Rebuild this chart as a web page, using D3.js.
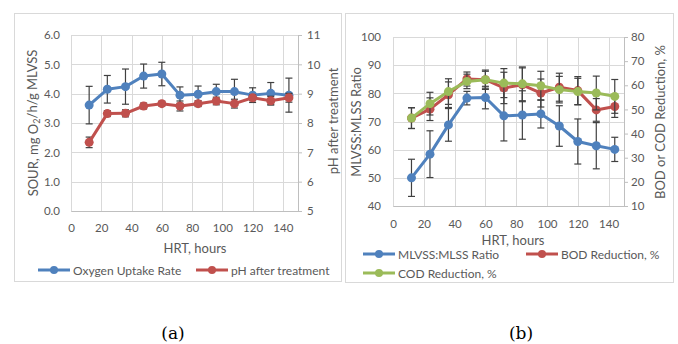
<!DOCTYPE html>
<html>
<head>
<meta charset="utf-8">
<script src="https://cdn.jsdelivr.net/npm/d3@7"></script>
<style>
body { margin: 0; background: #fff; }
svg text { font-family: Lato, "Open Sans", sans-serif; fill: #595959; }
</style>
</head>
<body>
<svg id="chart" width="678" height="344"></svg>
<script>
// HRT (hours) shared by both panels
var hrt = [12, 24, 36, 48, 60, 72, 84, 96, 108, 120, 132, 144];

// panel (a)
var sour    = [3.61, 4.15, 4.24, 4.60, 4.67, 3.95, 3.98, 4.07, 4.07, 3.95, 4.01, 3.95];
var sourErr = [0.64, 0.47, 0.60, 0.41, 0.40, 0.28, 0.28, 0.25, 0.42, 0.25, 0.37, 0.58];
var ph      = [7.34, 8.32, 8.33, 8.58, 8.66, 8.58, 8.66, 8.75, 8.66, 8.86, 8.76, 8.86];
var phErr   = [0.18, 0.10, 0.12, 0.10, 0.08, 0.17, 0.10, 0.13, 0.15, 0.10, 0.15, 0.15];

// panel (b)
var ratio    = [50.0, 58.4, 68.8, 78.3, 78.5, 72.0, 72.3, 72.7, 68.4, 62.9, 61.4, 60.1];
var ratioErr = [6.6, 8.3, 5.8, 2.4, 4.0, 8.9, 8.6, 5.0, 7.2, 8.0, 8.2, 4.3];
var bod      = [46.4, 50.1, 56.1, 62.6, 62.3, 58.9, 60.2, 56.8, 59.2, 57.8, 49.8, 51.2];
var bodErr   = [4.3, 4.7, 5.3, 2.9, 3.5, 6.5, 7.0, 5.8, 5.8, 5.8, 4.7, 4.5];
var cod      = [46.4, 52.4, 57.4, 61.6, 62.3, 60.9, 60.6, 59.8, 58.2, 57.4, 56.8, 55.4];
var codErr   = [4.3, 4.7, 5.3, 3.0, 4.0, 6.0, 7.0, 6.0, 5.5, 5.5, 7.0, 7.0];

// tick labels
var xTicks     = [0, 20, 40, 60, 80, 100, 120, 140];
var sourTicks  = [0, 1, 2, 3, 4, 5, 6];
var phTicks    = [5, 6, 7, 8, 9, 10, 11];
var ratioTicks = [40, 50, 60, 70, 80, 90, 100];
var redTicks   = [10, 20, 30, 40, 50, 60, 70, 80];

var BLUE = "#4f81bd", RED = "#c0504d", GREEN = "#9bbb59";

var svg = d3.select("#chart");

function drawPanel(p) {
    var g = svg.append("g");

    // chart border
    g.append("rect")
        .attr("x", p.box[0] + 0.5).attr("y", p.box[1] + 0.5)
        .attr("width", p.box[2] - p.box[0]).attr("height", p.box[3] - p.box[1])
        .attr("fill", "#fff").attr("stroke", "#d9d9d9");

    var x = d3.scaleLinear().domain([0, 150]).range([p.left, p.right]);
    var yL = d3.scaleLinear().domain(p.leftDomain).range([p.bottom, p.top]);
    var yR = d3.scaleLinear().domain(p.rightDomain).range([p.bottom, p.top]);

    // gridlines
    g.append("g").selectAll("line")
        .data(p.leftTicks).join("line")
        .attr("x1", p.left).attr("x2", p.right)
        .attr("y1", d => Math.round(yL(d)) + 0.5).attr("y2", d => Math.round(yL(d)) + 0.5)
        .attr("stroke", "#d9d9d9");
    g.append("g").selectAll("line")
        .data(xTicks).join("line")
        .attr("x1", d => Math.round(x(d)) + 0.5).attr("x2", d => Math.round(x(d)) + 0.5)
        .attr("y1", p.top).attr("y2", p.bottom)
        .attr("stroke", "#d9d9d9");

    // axes
    var ax = g.append("g")
        .attr("transform", "translate(0," + p.bottom + ")")
        .call(d3.axisBottom(x).tickValues(xTicks).tickSize(0).tickPadding(p.xPad));
    var al = g.append("g")
        .attr("transform", "translate(" + p.left + ",0)")
        .call(d3.axisLeft(yL).tickValues(p.leftTicks).tickFormat(p.leftFormat).tickSize(0).tickPadding(p.lPad));
    var ar = g.append("g")
        .attr("transform", "translate(" + p.right + ",0)")
        .call(d3.axisRight(yR).tickValues(p.rightTicks).tickFormat(d3.format("d"))
            .tickSize(4).tickSizeOuter(0).tickPadding(p.rPad));
    [ax, al, ar].forEach(function (a) {
        a.selectAll("text").attr("fill", "#595959").style("font-size", "11.5px");
        a.selectAll("path, line").attr("stroke", "#bfbfbf");
    });
    al.select(".domain").remove();

    // axis titles
    g.append("text")
        .attr("x", p.xTitle[0]).attr("y", p.xTitle[1])
        .attr("text-anchor", "middle").attr("dominant-baseline", "central")
        .style("font-size", "13px").text("HRT, hours");
    var lt = g.append("text")
        .attr("transform", "translate(" + p.lTitle[0] + "," + p.lTitle[1] + ") rotate(-90)")
        .attr("text-anchor", "middle").attr("dominant-baseline", "central")
        .style("font-size", "13px");
    p.lTitleParts.forEach(function (t) {
        lt.append("tspan").text(t.text)
            .attr("dy", t.dy || null)
            .style("font-size", t.size || null);
    });
    g.append("text")
        .attr("transform", "translate(" + p.rTitle[0] + "," + p.rTitle[1] + ") rotate(-90)")
        .attr("text-anchor", "middle").attr("dominant-baseline", "central")
        .style("font-size", "13px").text(p.rTitleText);

    // series
    p.series.forEach(function (s) {
        var y = s.axis === "left" ? yL : yR;
        var pts = hrt.map((h, i) => ({ h: h, v: s.values[i], e: s.err[i] }));

        var eb = g.append("g").attr("stroke", "#404040").attr("stroke-width", 1.2);
        eb.selectAll(".v").data(pts).join("line")
            .attr("x1", d => x(d.h)).attr("x2", d => x(d.h))
            .attr("y1", d => y(d.v - d.e)).attr("y2", d => y(d.v + d.e));
        eb.selectAll(".t").data(pts).join("line")
            .attr("x1", d => x(d.h) - 3.5).attr("x2", d => x(d.h) + 3.5)
            .attr("y1", d => y(d.v + d.e)).attr("y2", d => y(d.v + d.e));
        eb.selectAll(".b").data(pts).join("line")
            .attr("x1", d => x(d.h) - 3.5).attr("x2", d => x(d.h) + 3.5)
            .attr("y1", d => y(d.v - d.e)).attr("y2", d => y(d.v - d.e));

        g.append("path")
            .datum(pts)
            .attr("fill", "none").attr("stroke", s.color).attr("stroke-width", 3)
            .attr("stroke-linejoin", "round")
            .attr("d", d3.line().x(d => x(d.h)).y(d => y(d.v)));
        g.append("g").selectAll("circle")
            .data(pts).join("circle")
            .attr("cx", d => x(d.h)).attr("cy", d => y(d.v))
            .attr("r", 4.5).attr("fill", s.color);
    });

    // legend
    p.series.forEach(function (s) {
        var lx = s.legend[0], ly = s.legend[1];
        g.append("line")
            .attr("x1", lx).attr("x2", lx + 32).attr("y1", ly).attr("y2", ly)
            .attr("stroke", s.color).attr("stroke-width", 3);
        g.append("circle").attr("cx", lx + 16).attr("cy", ly).attr("r", 4).attr("fill", s.color);
        g.append("text")
            .attr("x", lx + 35).attr("y", ly)
            .attr("dominant-baseline", "central")
            .style("font-size", "12px").text(s.name);
    });

    // panel label
    svg.append("text")
        .attr("x", p.label[0]).attr("y", p.label[1])
        .attr("text-anchor", "middle").attr("dominant-baseline", "central")
        .style("font-family", "'DejaVu Serif', serif").style("font-size", "17px")
        .style("fill", "#000")
        .text(p.labelText);
}

drawPanel({
    box: [14, 13, 341, 281],
    left: 71, right: 298, top: 35, bottom: 211,
    leftDomain: [0, 6], rightDomain: [5, 11],
    leftTicks: sourTicks, rightTicks: phTicks,
    leftFormat: d3.format(".1f"),
    xPad: 13, lPad: 11, rPad: 5,
    xTitle: [195, 248],
    lTitle: [33, 123],
    lTitleParts: [{ text: "SOUR, mg O" }, { text: "2", dy: "0.35em", size: "9px" }, { text: "/h/g MLVSS", dy: "-0.35em" }],
    rTitle: [333, 121], rTitleText: "pH after treatment",
    series: [
        { values: sour, err: sourErr, axis: "left", color: BLUE, name: "Oxygen Uptake Rate", legend: [38, 270] },
        { values: ph, err: phErr, axis: "right", color: RED, name: "pH after treatment", legend: [196, 270] }
    ],
    label: [173, 333], labelText: "(a)"
});

drawPanel({
    box: [345, 13, 673, 282],
    left: 393, right: 624, top: 37, bottom: 206,
    leftDomain: [40, 100], rightDomain: [10, 80],
    leftTicks: ratioTicks, rightTicks: redTicks,
    leftFormat: d3.format("d"),
    xPad: 14, lPad: 12, rPad: 3,
    xTitle: [513, 240],
    lTitle: [356, 122],
    lTitleParts: [{ text: "MLVSS:MLSS Ratio" }],
    rTitle: [660, 122], rTitleText: "BOD or COD Reduction, %",
    series: [
        { values: ratio, err: ratioErr, axis: "left", color: BLUE, name: "MLVSS:MLSS Ratio", legend: [363, 254] },
        { values: bod, err: bodErr, axis: "right", color: RED, name: "BOD Reduction, %", legend: [526, 254] },
        { values: cod, err: codErr, axis: "right", color: GREEN, name: "COD Reduction, %", legend: [363, 273] }
    ],
    label: [521, 333], labelText: "(b)"
});
</script>
</body>
</html>
